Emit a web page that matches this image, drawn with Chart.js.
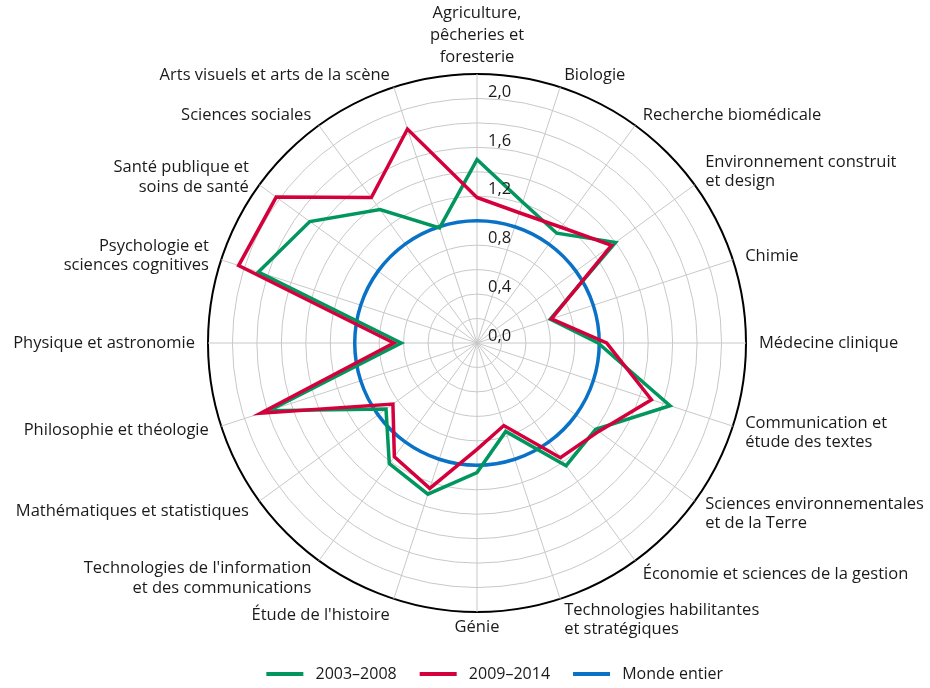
<!DOCTYPE html>
<html lang="fr">
<head>
<meta charset="utf-8">
<title>Radar</title>
<script src="https://cdn.jsdelivr.net/npm/chart.js@4/dist/chart.umd.min.js"></script>
<style>
  body { margin: 0; background: #fff; }
  #wrap { width: 930px; height: 688px; position: relative; }
</style>
</head>
<body>
<div id="wrap"><canvas id="radar"></canvas></div>
<script>
// Categories, clockwise from the top
const categories = [
  ['Agriculture,', 'pêcheries et', 'foresterie'],
  'Biologie',
  'Recherche biomédicale',
  ['Environnement construit', 'et design'],
  'Chimie',
  'Médecine clinique',
  ['Communication et', 'étude des textes'],
  ['Sciences environnementales', 'et de la Terre'],
  'Économie et sciences de la gestion',
  ['Technologies habilitantes', 'et stratégiques'],
  'Génie',
  "Étude de l'histoire",
  ["Technologies de l'information", 'et des communications'],
  'Mathématiques et statistiques',
  'Philosophie et théologie',
  'Physique et astronomie',
  ['Psychologie et', 'sciences cognitives'],
  ['Santé publique et', 'soins de santé'],
  'Sciences sociales',
  'Arts visuels et arts de la scène'
];

const series2003 = [1.50, 1.21, 1.11, 1.40, 0.63, 0.99, 1.66, 1.20, 1.24, 0.76,
                    1.06, 1.30, 1.22, 0.92, 1.79, 0.62, 1.88, 1.69, 1.35, 0.99];
const series2009 = [1.19, 1.12, 1.17, 1.36, 0.64, 1.06, 1.50, 1.23, 1.16, 0.71,
                    0.87, 1.25, 1.15, 0.85, 1.86, 0.68, 2.05, 2.03, 1.47, 1.84];
const monde = [1.0, 1.0, 1.0, 1.0, 1.0, 1.0, 1.0, 1.0, 1.0, 1.0,
               1.0, 1.0, 1.0, 1.0, 1.0, 1.0, 1.0, 1.0, 1.0, 1.0];

const tickValues = [0, 0.4, 0.8, 1.2, 1.6, 2.0];

const FONT = '"Open Sans", "DejaVu Sans", sans-serif';
const TEXT = '#1a1a1a';

// category labels around the outer circle
const pointLabelPlugin = {
  id: 'pointLabelPlugin',
  afterDraw(chart) {
    const scale = chart.scales.r;
    const ctx = chart.ctx;
    const R = scale.drawingArea;
    ctx.save();
    ctx.font = '16.5px ' + FONT;
    ctx.fillStyle = TEXT;
    ctx.textBaseline = 'middle';
    categories.forEach((label, i) => {
      const lines = [].concat(label);
      const lh = lines.length > 2 ? 22 : 19.5;
      const probe = scale.getPointPosition(i, R);
      const dx = probe.x - scale.xCenter;
      const dy = probe.y - scale.yCenter;
      let extra = 13;
      // lower and right-hand labels sit a little lower/further out
      if (lines.length > 1 && (dx > 1 || dy > 0)) extra += 9;
      if (lines.length === 1 && dy > R / 2) extra += 4;
      const px = scale.getPointPosition(i, R + 13).x;
      let py = scale.getPointPosition(i, R + extra).y;
      let x = px;
      if (Math.abs(dx) < 1) {
        ctx.textAlign = 'center';
        const p = scale.getPointPosition(i, R + 6 + lines.length * lh / 2);
        x = p.x;
        py = p.y;
      } else {
        ctx.textAlign = dx > 0 ? 'left' : 'right';
      }
      lines.forEach((ln, k) => {
        ctx.fillText(ln, x, py + (k - (lines.length - 1) / 2) * lh);
      });
    });
    ctx.restore();
  }
};

// tick values, set just right of the vertical spoke
const tickPlugin = {
  id: 'tickPlugin',
  afterDatasetsDraw(chart) {
    const scale = chart.scales.r;
    const ctx = chart.ctx;
    ctx.save();
    ctx.font = '16.5px ' + FONT;
    ctx.fillStyle = TEXT;
    ctx.textAlign = 'left';
    ctx.textBaseline = 'middle';
    tickValues.forEach(v => {
      const d = scale.getDistanceFromCenterForValue(v);
      ctx.fillText(v.toFixed(1).replace('.', ','), scale.xCenter + 11, scale.yCenter - d - 6.5);
    });
    ctx.restore();
  }
};

const ctx = document.getElementById('radar').getContext('2d');

const radar = new Chart(ctx, {
  type: 'radar',
  data: {
    labels: categories,
    datasets: [
      {
        label: '2003–2008',
        data: series2003,
        borderColor: '#00965e',
        backgroundColor: '#00965e',
        borderWidth: 3.5,
        fill: false,
        pointRadius: 0,
        borderJoinStyle: 'miter',
        order: 2
      },
      {
        label: '2009–2014',
        data: series2009,
        borderColor: '#d4003b',
        backgroundColor: '#d4003b',
        borderWidth: 3.5,
        fill: false,
        pointRadius: 0,
        borderJoinStyle: 'miter',
        order: 1
      },
      {
        label: 'Monde entier',
        data: monde,
        borderColor: '#0a72c6',
        backgroundColor: '#0a72c6',
        borderWidth: 3.5,
        fill: false,
        pointRadius: 0,
        tension: 0.34, // close to a true circle
        order: 3
      }
    ]
  },
  options: {
    responsive: true,
    maintainAspectRatio: false,
    devicePixelRatio: 1,
    animation: false,
    layout: {
      padding: { left: 208, right: 184, top: 43, bottom: -4 }
    },
    scales: {
      r: {
        min: 0,
        max: 2.2,
        startAngle: 0,
        ticks: { stepSize: 0.2, display: false },
        grid: {
          circular: true,
          color: c => (c.tick && c.tick.value > 2.19) ? '#000000' : '#c8c8c8',
          lineWidth: c => (c.tick && c.tick.value > 2.19) ? 2 : 1
        },
        angleLines: { color: '#c8c8c8', lineWidth: 1 },
        pointLabels: { display: false }
      }
    },
    plugins: {
      tooltip: { enabled: false },
      legend: {
        position: 'bottom',
        align: 'end',
        labels: {
          boxWidth: 37,
          boxHeight: 4,
          padding: 23,
          color: TEXT,
          font: { family: FONT, size: 16 },
          sort: (a, b) => a.datasetIndex - b.datasetIndex,
          generateLabels(chart) {
            const items = Chart.defaults.plugins.legend.labels.generateLabels(chart);
            items.forEach(it => {
              it.lineWidth = 0;
              it.fillStyle = it.strokeStyle;
              it.text = ' ' + it.text;
            });
            return items;
          }
        }
      }
    }
  },
  plugins: [pointLabelPlugin, tickPlugin]
});
</script>
</body>
</html>
